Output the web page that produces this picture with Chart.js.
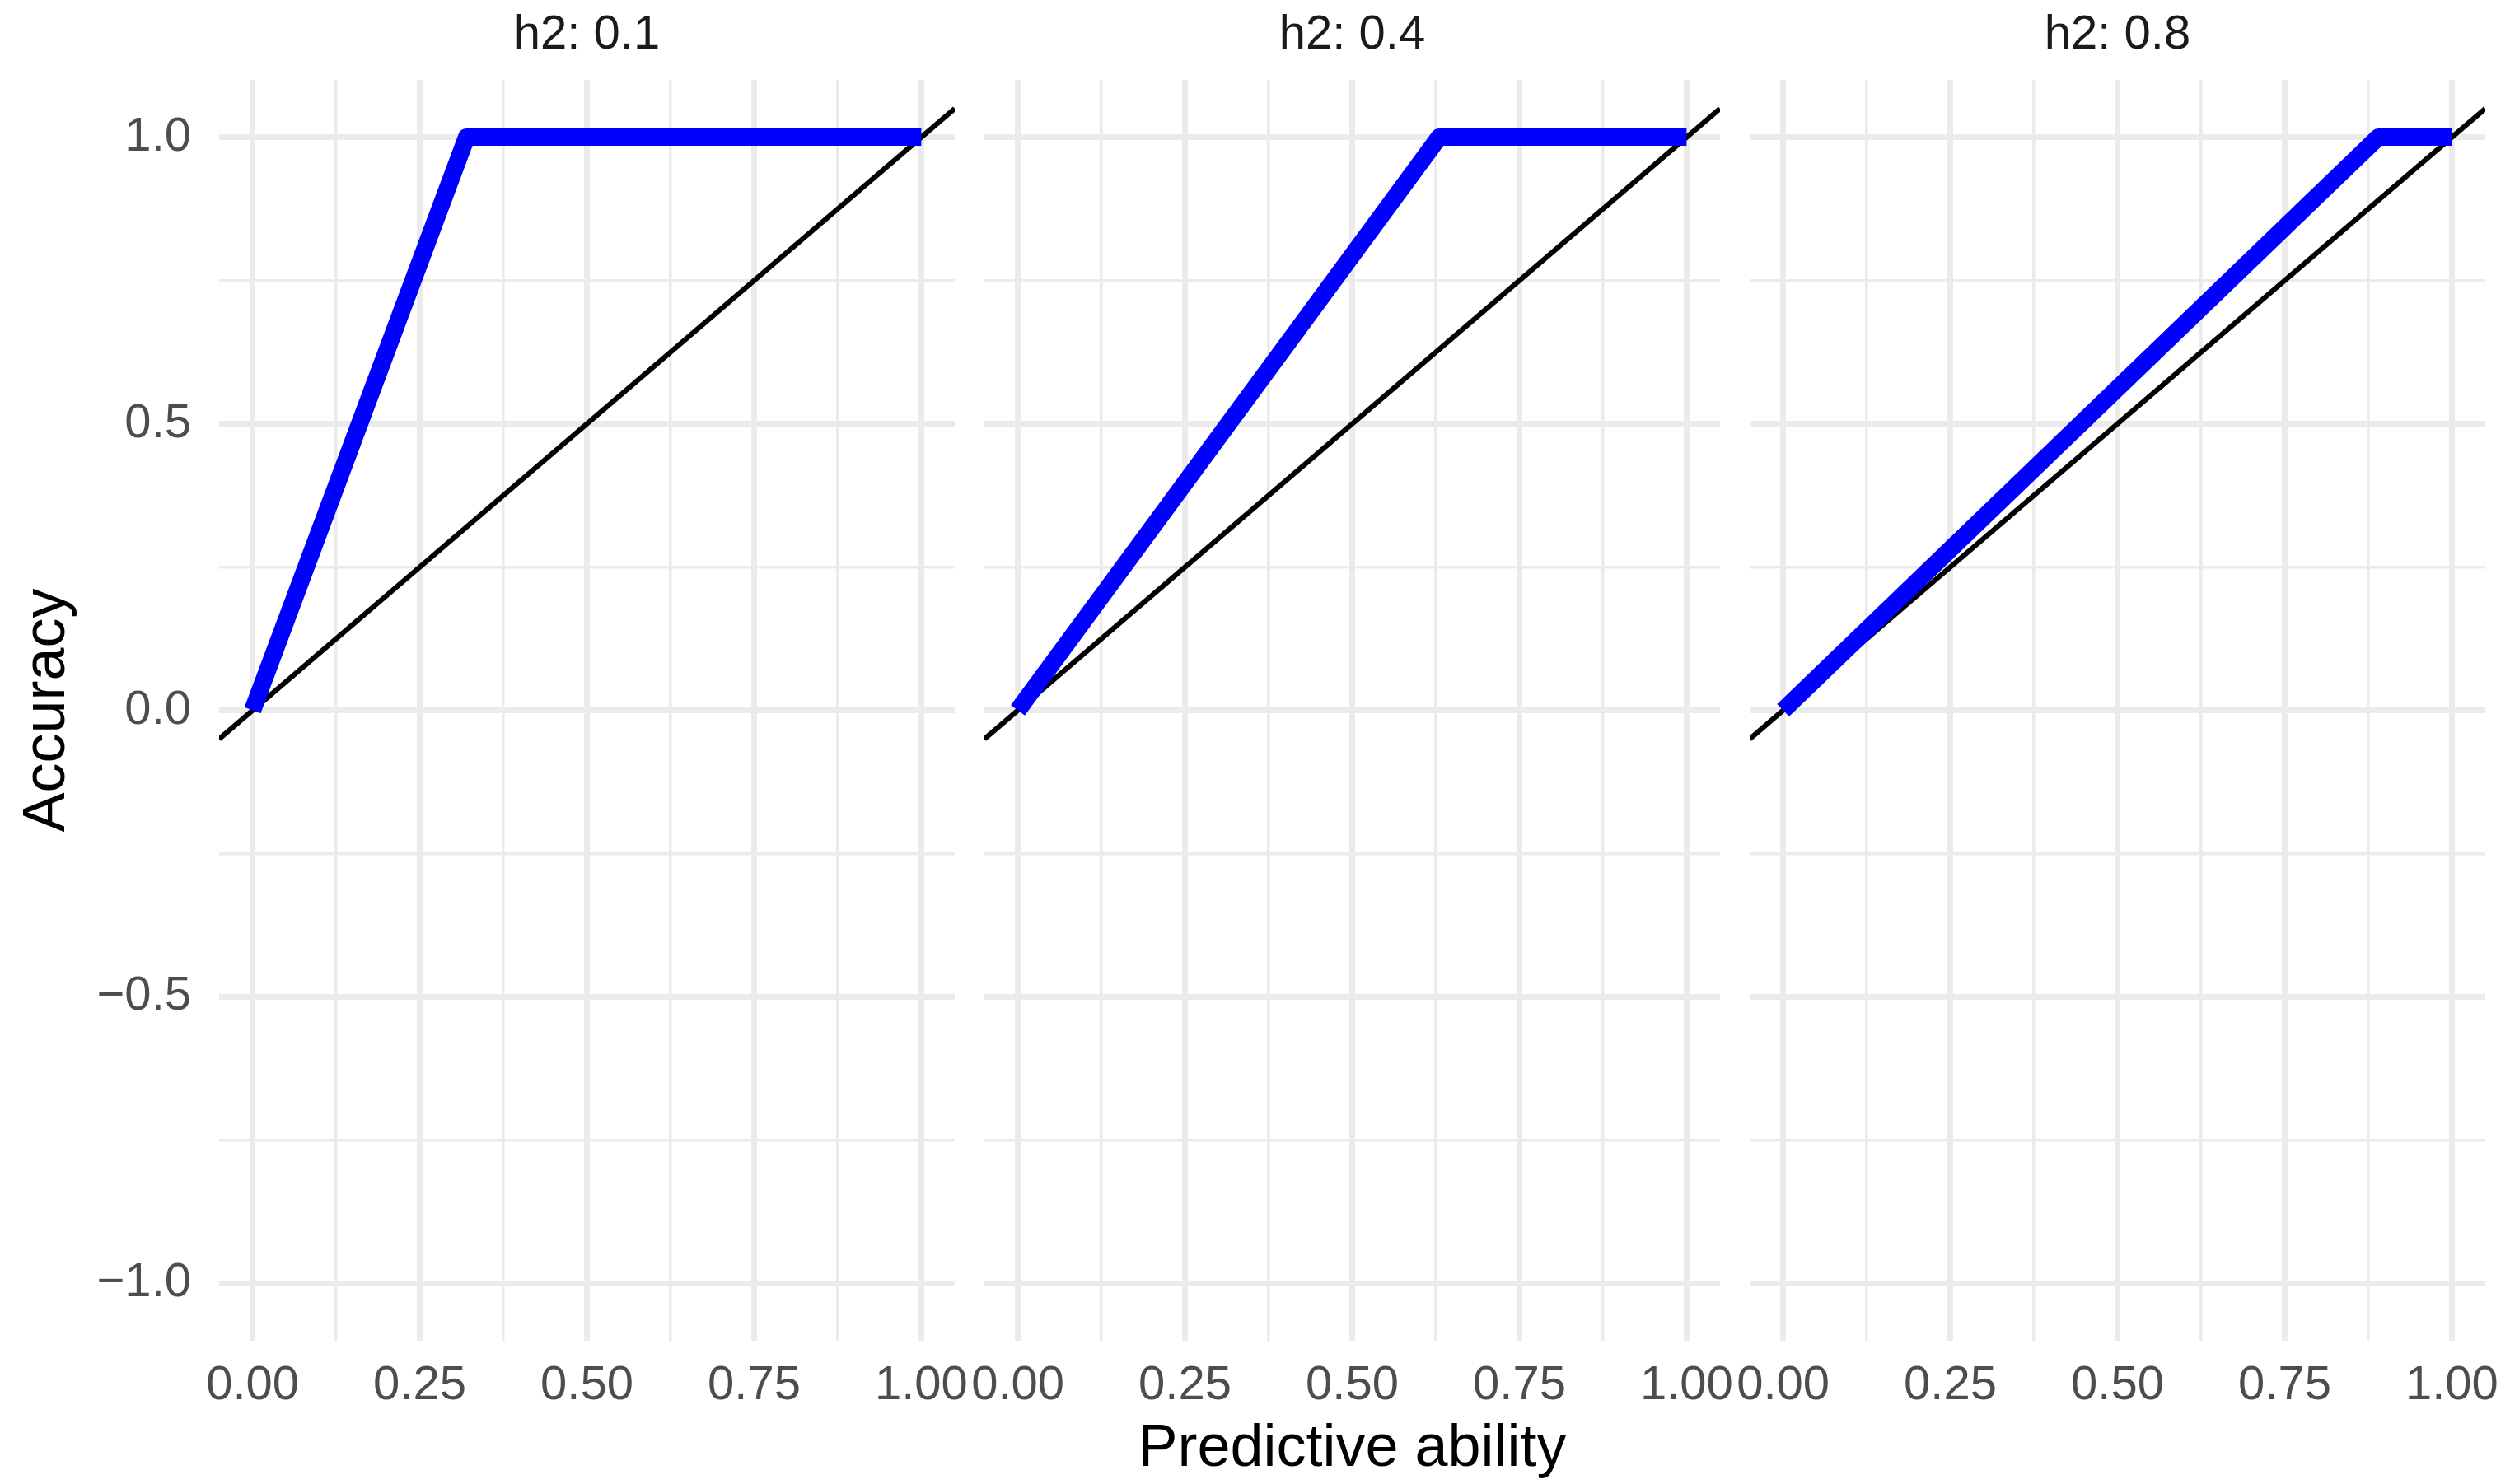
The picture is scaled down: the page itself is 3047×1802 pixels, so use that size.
<!DOCTYPE html>
<html>
<head>
<meta charset="utf-8">
<title>Accuracy vs predictive ability</title>
<script src="https://cdn.jsdelivr.net/npm/chart.js@4.4.1/dist/chart.umd.min.js"></script>
<style>
  html, body { margin: 0; padding: 0; background: #ffffff; overflow: hidden; }
  #wrap { position: relative; width: 3047px; height: 1802px; }
  #wrap canvas { position: absolute; left: 0; top: 0; }
</style>
</head>
<body>
<div id="wrap">
  <canvas id="panel-0" width="3047" height="1802"></canvas>
  <canvas id="panel-1" width="3047" height="1802"></canvas>
  <canvas id="panel-2" width="3047" height="1802"></canvas>
</div>
<script>
// facet labels
const panelLabels = ['h2: 0.1', 'h2: 0.4', 'h2: 0.8'];

// blue curve per facet
const predAbility01 = [0, 0.32, 1];
const accuracy01 = [0, 1, 1];
const predAbility04 = [0, 0.63, 1];
const accuracy04 = [0, 1, 1];
const predAbility08 = [0, 0.89, 1];
const accuracy08 = [0, 1, 1];

// y = x reference line, across the panel range
const refX = [-0.05, 1.05];
const refY = [-0.05, 1.05];

// axes
const xBreaks = [0, 0.25, 0.5, 0.75, 1];
const xLabels = ['0.00', '0.25', '0.50', '0.75', '1.00'];
const xMinorBreaks = [0.125, 0.375, 0.625, 0.875];
const yBreaks = [-1, -0.5, 0, 0.5, 1];
const yLabels = ['\u22121.0', '\u22120.5', '0.0', '0.5', '1.0'];
const yMinorBreaks = [-0.75, -0.25, 0.25, 0.75];

const curves = [
  [predAbility01, accuracy01],
  [predAbility04, accuracy04],
  [predAbility08, accuracy08],
];

// layout of the three panels in the 3047 x 1802 page
const W = 3047;
const panelLeft = [266, 1195, 2124];
const panelWidth = 893;

Chart.defaults.font.family = "'Liberation Sans', Arial, Helvetica, sans-serif";

const toPoints = (xs, ys) => xs.map((x, i) => ({ x: x, y: ys[i] }));
const sortedTicks = (a, b) => a.concat(b).sort((p, q) => p - q).map((v) => ({ value: v }));

const gridFor = (major) => ({
  color: '#EBEBEB',
  drawTicks: false,
  lineWidth: (ctx) => (ctx.tick && major.includes(ctx.tick.value) ? 7 : 3.6),
});

panelLabels.forEach((label, i) => {
  const first = i === 0;
  const middle = i === 1;
  const ctx = document.getElementById('panel-' + i).getContext('2d');

  new Chart(ctx, {
    type: 'scatter',
    data: {
      datasets: [
        {
          label: 'accuracy',
          data: toPoints(curves[i][0], curves[i][1]),
          showLine: true,
          borderColor: '#0000FF',
          borderWidth: 21,
          borderCapStyle: 'butt',
          borderJoinStyle: 'round',
          pointRadius: 0,
          tension: 0,
        },
        {
          label: 'y = x',
          data: toPoints(refX, refY),
          showLine: true,
          borderColor: '#000000',
          borderWidth: 6.3,
          pointRadius: 0,
          clip: 0,
        },
      ],
    },
    options: {
      responsive: false,
      animation: false,
      events: [],
      layout: {
        padding: {
          top: 0,
          bottom: 0,
          left: first ? 0 : panelLeft[i],
          right: W - panelLeft[i] - panelWidth,
        },
      },
      plugins: {
        legend: { display: false },
        tooltip: { enabled: false },
        title: {
          display: true,
          text: label,
          fullSize: false,
          color: '#1A1A1A',
          font: { size: 58, weight: 'normal', lineHeight: 1.2 },
          padding: { top: 8, bottom: 19.4 },
        },
      },
      scales: {
        x: {
          type: 'linear',
          min: -0.05,
          max: 1.05,
          afterBuildTicks: (s) => { s.ticks = sortedTicks(xBreaks, xMinorBreaks); },
          afterFit: (s) => { s.height = 174; s.paddingLeft = 0; s.paddingRight = 0; },
          grid: gridFor(xBreaks),
          border: { display: false },
          ticks: {
            autoSkip: false,
            maxRotation: 0,
            padding: 20,
            color: '#4D4D4D',
            font: { size: 58, lineHeight: 1.2 },
            callback: (v) => { const k = xBreaks.indexOf(v); return k >= 0 ? xLabels[k] : ''; },
          },
          title: {
            display: middle,
            text: 'Predictive ability',
            color: '#000000',
            font: { size: 72, lineHeight: 1.15 },
            padding: { top: 0, bottom: 0.6 },
          },
        },
        y: {
          type: 'linear',
          min: -1.1,
          max: 1.1,
          afterBuildTicks: (s) => { s.ticks = sortedTicks(yBreaks, yMinorBreaks); },
          afterFit: (s) => { s.width = first ? panelLeft[0] : 0; s.paddingTop = 0; s.paddingBottom = 0; },
          grid: gridFor(yBreaks),
          border: { display: false },
          ticks: {
            display: first,
            autoSkip: false,
            padding: 34,
            color: '#4D4D4D',
            font: { size: 58, lineHeight: 1.2 },
            callback: (v) => { const k = yBreaks.indexOf(v); return k >= 0 ? yLabels[k] : ''; },
          },
          title: {
            display: first,
            text: 'Accuracy',
            color: '#000000',
            font: { size: 72, lineHeight: 1.15 },
            padding: { top: 16.6, bottom: 0 },
          },
        },
      },
    },
  });
});
</script>
</body>
</html>
